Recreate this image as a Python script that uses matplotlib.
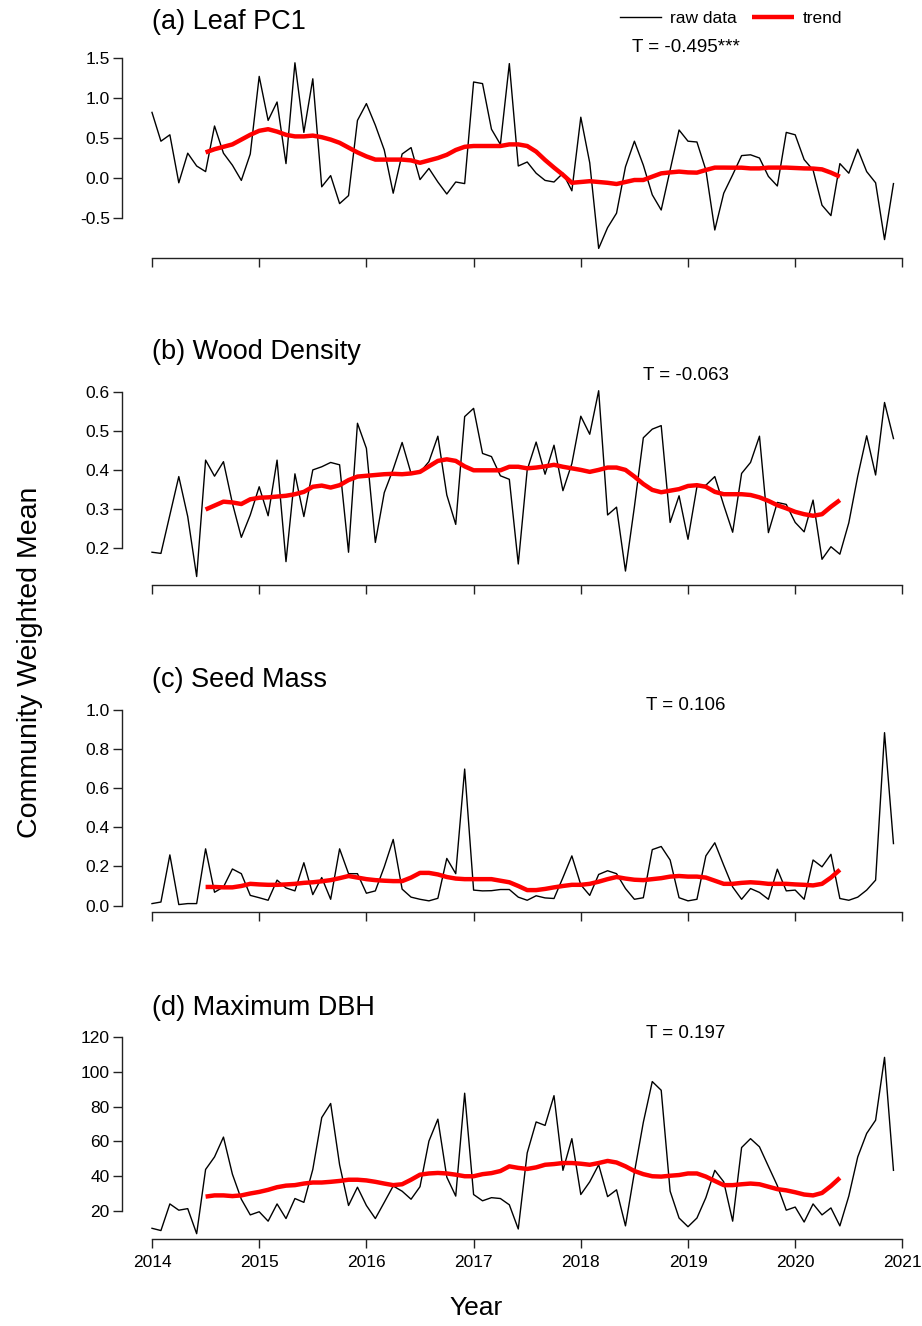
import matplotlib
matplotlib.use("Agg")
import matplotlib.pyplot as plt
import numpy as np

plt.rcParams['font.family'] = ['Liberation Sans', 'DejaVu Sans']

start_year = 2014
n_months = 84
trend_offset = 6  # trend starts at mid-2014

leaf_raw = [0.82, 0.46, 0.54, -0.06, 0.31, 0.15, 0.08, 0.65, 0.31, 0.16, -0.03, 0.30,
            1.27, 0.72, 0.95, 0.18, 1.44, 0.57, 1.24, -0.11, 0.03, -0.32, -0.22, 0.72,
            0.93, 0.66, 0.35, -0.19, 0.30, 0.38, -0.02, 0.12, -0.05, -0.20, -0.05, -0.07,
            1.20, 1.18, 0.61, 0.42, 1.43, 0.15, 0.20, 0.06, -0.03, -0.05, 0.06, -0.16,
            0.76, 0.19, -0.88, -0.62, -0.44, 0.14, 0.46, 0.16, -0.21, -0.40, 0.10, 0.60,
            0.46, 0.45, 0.10, -0.65, -0.19, 0.04, 0.28, 0.29, 0.25, 0.02, -0.10, 0.57,
            0.54, 0.23, 0.10, -0.34, -0.47, 0.18, 0.06, 0.36, 0.08, -0.06, -0.77, -0.07]
leaf_trend = [0.32, 0.36, 0.39, 0.42, 0.48, 0.54, 0.59, 0.61, 0.58, 0.54, 0.52, 0.52,
              0.53, 0.51, 0.48, 0.44, 0.38, 0.32, 0.27, 0.23, 0.23, 0.23, 0.23, 0.22,
              0.19, 0.22, 0.25, 0.29, 0.35, 0.39, 0.40, 0.40, 0.40, 0.40, 0.42, 0.42,
              0.40, 0.33, 0.225, 0.13, 0.04, -0.06, -0.05, -0.04, -0.05, -0.06, -0.075, -0.05,
              -0.025, -0.025, 0.017, 0.058, 0.07, 0.08, 0.07, 0.067, 0.10, 0.13, 0.13, 0.129,
              0.129, 0.12, 0.12, 0.13, 0.13, 0.13, 0.125, 0.12, 0.118, 0.108, 0.067, 0.017]

wood_raw = [0.190, 0.187, 0.285, 0.383, 0.281, 0.128, 0.425, 0.384, 0.421, 0.315, 0.228, 0.285,
            0.357, 0.283, 0.425, 0.166, 0.390, 0.281, 0.400, 0.408, 0.419, 0.413, 0.190, 0.519,
            0.455, 0.215, 0.342, 0.402, 0.470, 0.391, 0.394, 0.421, 0.486, 0.336, 0.261, 0.536,
            0.557, 0.442, 0.434, 0.385, 0.376, 0.160, 0.400, 0.471, 0.389, 0.463, 0.347, 0.416,
            0.537, 0.491, 0.602, 0.285, 0.305, 0.142, 0.306, 0.482, 0.504, 0.513, 0.266, 0.334,
            0.223, 0.357, 0.361, 0.383, 0.310, 0.241, 0.391, 0.419, 0.486, 0.240, 0.317, 0.312,
            0.266, 0.242, 0.323, 0.172, 0.204, 0.185, 0.265, 0.384, 0.487, 0.387, 0.572, 0.480]
wood_trend = [0.299, 0.309, 0.319, 0.317, 0.313, 0.325, 0.329, 0.330, 0.332, 0.334, 0.338, 0.344,
              0.357, 0.360, 0.355, 0.361, 0.374, 0.383, 0.385, 0.387, 0.389, 0.390, 0.389, 0.391,
              0.395, 0.409, 0.423, 0.427, 0.423, 0.409, 0.399, 0.399, 0.399, 0.399, 0.408, 0.408,
              0.404, 0.406, 0.409, 0.413, 0.408, 0.404, 0.400, 0.395, 0.400, 0.406, 0.406, 0.400,
              0.383, 0.364, 0.349, 0.343, 0.347, 0.351, 0.359, 0.361, 0.357, 0.344, 0.338, 0.338,
              0.338, 0.336, 0.330, 0.321, 0.310, 0.302, 0.293, 0.287, 0.283, 0.287, 0.306, 0.323]

seed_raw = [0.010, 0.018, 0.259, 0.005, 0.010, 0.010, 0.290, 0.068, 0.095, 0.187, 0.163, 0.052,
            0.040, 0.027, 0.130, 0.090, 0.075, 0.219, 0.056, 0.143, 0.032, 0.290, 0.163, 0.163,
            0.063, 0.075, 0.198, 0.338, 0.084, 0.043, 0.032, 0.024, 0.037, 0.241, 0.163, 0.698,
            0.079, 0.075, 0.076, 0.082, 0.082, 0.043, 0.027, 0.050, 0.039, 0.036, 0.143, 0.254,
            0.106, 0.052, 0.159, 0.178, 0.163, 0.087, 0.032, 0.040, 0.286, 0.302, 0.233, 0.040,
            0.024, 0.032, 0.254, 0.321, 0.206, 0.095, 0.032, 0.087, 0.067, 0.032, 0.186, 0.075,
            0.079, 0.032, 0.233, 0.198, 0.262, 0.036, 0.027, 0.043, 0.079, 0.130, 0.884, 0.317]
seed_trend = [0.095, 0.095, 0.093, 0.093, 0.100, 0.111, 0.108, 0.106, 0.106, 0.108, 0.111, 0.116,
              0.119, 0.124, 0.130, 0.140, 0.151, 0.143, 0.135, 0.130, 0.127, 0.125, 0.125, 0.143,
              0.167, 0.167, 0.159, 0.146, 0.138, 0.135, 0.135, 0.135, 0.135, 0.127, 0.119, 0.100,
              0.079, 0.079, 0.085, 0.093, 0.100, 0.106, 0.106, 0.111, 0.122, 0.135, 0.146, 0.138,
              0.132, 0.130, 0.135, 0.140, 0.148, 0.151, 0.148, 0.148, 0.143, 0.127, 0.111, 0.111,
              0.116, 0.119, 0.116, 0.111, 0.111, 0.111, 0.108, 0.106, 0.103, 0.111, 0.143, 0.183]

dbh_raw = [10.1, 8.8, 24.1, 20.5, 21.4, 7.0, 43.9, 51.1, 62.5, 41.2, 26.8, 17.8,
           19.6, 14.2, 24.1, 15.7, 27.2, 25.0, 43.9, 73.7, 81.8, 46.6, 23.2, 33.7,
           23.2, 15.7, 25.0, 34.4, 31.4, 26.8, 34.0, 60.2, 72.8, 39.5, 28.6, 87.7,
           29.5, 25.9, 27.7, 27.2, 23.6, 9.7, 53.4, 71.2, 69.2, 86.3, 43.4, 61.6,
           29.5, 36.8, 46.6, 28.3, 32.2, 11.5, 42.2, 71.0, 94.4, 89.4, 31.4, 16.0,
           11.0, 16.0, 27.7, 43.4, 36.8, 14.2, 56.5, 61.6, 56.9, 45.7, 34.6, 20.5,
           22.3, 13.7, 24.1, 17.8, 21.8, 11.5, 28.6, 51.1, 64.6, 72.2, 108.3, 43.4]
dbh_trend = [28.3, 29.0, 29.0, 28.6, 29.0, 30.1, 31.0, 32.2, 33.7, 34.6, 34.9, 35.8,
             36.4, 36.4, 36.8, 37.3, 38.0, 38.0, 37.6, 36.8, 35.8, 34.9, 35.4, 38.0,
             40.9, 41.6, 41.9, 41.6, 40.9, 40.0, 40.0, 41.2, 41.8, 43.0, 45.7, 44.8,
             44.2, 45.1, 46.6, 47.0, 47.6, 47.6, 47.2, 46.6, 47.6, 48.8, 47.9, 45.7,
             43.0, 41.2, 40.0, 39.8, 40.3, 40.7, 41.6, 41.6, 39.8, 37.3, 34.9, 34.9,
             35.4, 35.8, 35.4, 34.0, 32.6, 31.9, 30.8, 29.5, 29.0, 30.4, 34.4, 39.1]

titles = ["(a) Leaf PC1", "(b) Wood Density", "(c) Seed Mass", "(d) Maximum DBH"]
t_labels = ["T = -0.495***", "T = -0.063", "T = 0.106", "T = 0.197"]
raw_series = [leaf_raw, wood_raw, seed_raw, dbh_raw]
trend_series = [leaf_trend, wood_trend, seed_trend, dbh_trend]
yticks = [[-0.5, 0.0, 0.5, 1.0, 1.5],
          [0.2, 0.3, 0.4, 0.5, 0.6],
          [0.0, 0.2, 0.4, 0.6, 0.8, 1.0],
          [20, 40, 60, 80, 100, 120]]
ytick_labels = [["-0.5", "0.0", "0.5", "1.0", "1.5"],
                ["0.2", "0.3", "0.4", "0.5", "0.6"],
                ["0.0", "0.2", "0.4", "0.6", "0.8", "1.0"],
                ["20", "40", "60", "80", "100", "120"]]
ylims = [(-1.0, 1.525), (0.1064, 0.6217), (-0.033, 0.929), (3.95, 113.1)]
xticks = [2014, 2015, 2016, 2017, 2018, 2019, 2020, 2021]

W, H = 922, 1326
fig = plt.figure(figsize=(W / 100, H / 100), dpi=100)

years = start_year + np.arange(n_months) / 12.0
trend_years = years[trend_offset:trend_offset + len(leaf_trend)]

bottoms_px = [258, 585, 912, 1239]
title_y_px = [22, 352, 680, 1008]
t_y_px = [48, 375, 706, 1033]
ax_h_px = 202
ax_left_px, ax_right_px = 122.3, 923.2

for k in range(4):
    ax = fig.add_axes([ax_left_px / W, (H - bottoms_px[k]) / H,
                       (ax_right_px - ax_left_px) / W, ax_h_px / H])
    ln_raw, = ax.plot(years, raw_series[k], color='black', lw=1.0, label='raw data')
    ln_tr, = ax.plot(trend_years, trend_series[k], color='#FF0000', lw=3.2,
                     solid_capstyle='butt', label='trend')
    ax.set_xlim(2013.723, 2021.194)
    ax.set_ylim(*ylims[k])
    for s in ['top', 'right']:
        ax.spines[s].set_visible(False)
    for s in ['left', 'bottom']:
        ax.spines[s].set_linewidth(1.0)
        ax.spines[s].set_color('#222222')
    ax.spines['left'].set_bounds(yticks[k][0], yticks[k][-1])
    ax.spines['bottom'].set_bounds(2014, 2021)
    ax.set_yticks(yticks[k])
    ax.set_yticklabels(ytick_labels[k])
    ax.set_xticks(xticks)
    if k == 3:
        ax.set_xticklabels([str(x) for x in xticks])
    else:
        ax.set_xticklabels([])
    ax.tick_params(axis='both', direction='out', length=6.5, width=1.0,
                   color='#222222', labelsize=12.5)
    ax.tick_params(axis='y', pad=2.5)
    ax.tick_params(axis='x', pad=5)
    ax.patch.set_alpha(0)
    fig.text(152 / W, 1 - title_y_px[k] / H, titles[k], fontsize=19.5,
             ha='left', va='center')
    fig.text(686 / W, 1 - t_y_px[k] / H, t_labels[k], fontsize=13.5,
             ha='center', va='center')
    if k == 0:
        handles = [ln_raw, ln_tr]

fig.legend(handles, ['raw data', 'trend'], loc='center', ncol=2, frameon=False,
           bbox_to_anchor=(731 / W, 1 - 18 / H), fontsize=12.5,
           handlelength=2.4, handletextpad=0.5, columnspacing=0.9)

fig.text(30 / W, 1 - 662 / H, "Community Weighted Mean", rotation=90,
         fontsize=20.5, ha='center', va='center')
fig.text(476 / W, 1 - 1308 / H, "Year", fontsize=19, ha='center', va='center')

fig.savefig("out.png", dpi=100)
